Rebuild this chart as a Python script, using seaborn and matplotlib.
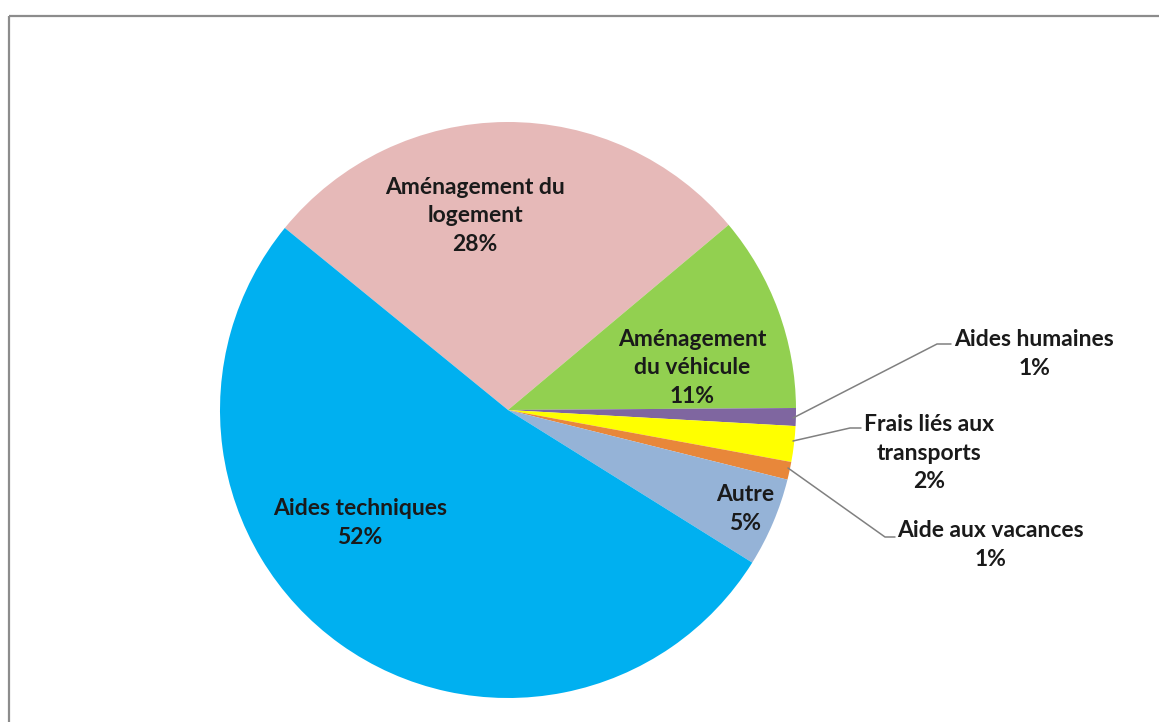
import matplotlib
matplotlib.use("Agg")
import matplotlib.pyplot as plt
import seaborn as sns

sns.set_theme(style="white")
plt.rcParams['font.family'] = ['Lato', 'DejaVu Sans']

# Data (clockwise order starting from the pink slice)
categories = ["Aménagement du logement", "Aménagement du véhicule", "Aides humaines",
              "Frais liés aux transports", "Aide aux vacances", "Autre", "Aides techniques"]
values = [28, 11, 1, 2, 1, 5, 52]
label_texts = ["Aménagement du\nlogement", "Aménagement\ndu véhicule", "Aides humaines",
               "Frais liés aux\ntransports", "Aide aux vacances", "Autre", "Aides techniques"]
colors = ["#E6B9B8", "#92D050", "#7F66A0", "#FFFF00", "#E8873A", "#95B3D7", "#00B0F0"]

W, H = 1159, 722
fig = plt.figure(figsize=(W / 100, H / 100), dpi=100)
ax = fig.add_axes([0, 0, 1, 1])

cx, cy, r = 508, H - 410, 288
ax.pie(values, colors=colors, startangle=140.8, counterclock=False,
       center=(cx, cy), radius=r, wedgeprops=dict(linewidth=0),
       frame=False)
ax.set_xlim(0, W)
ax.set_ylim(0, H)
ax.set_aspect('equal')
ax.axis('off')

# border (top and left)
ax.plot([9, W], [H - 16, H - 16], color="#8C8C8C", lw=1.6, solid_capstyle='butt')
ax.plot([9, 9], [H - 16, 0], color="#8C8C8C", lw=1.6, solid_capstyle='butt')

txt_color = "#1A1A1A"
fs = 16.5
total = sum(values)

def pct(v):
    return f"{round(100 * v / total)}%"

# label positions (pixel layout: center x, center y of text block)
pos = {
    0: (475, 216),
    1: (692, 368),
    2: (1034, 354),
    3: (929, 453),
    4: (990, 545),
    5: (745, 509),
    6: (360, 523),
}
for i, (x, y) in pos.items():
    s = label_texts[i] + "\n" + pct(values[i])
    ax.text(x, H - y, s, ha='center', va='center', fontsize=fs, fontweight='bold',
            color=txt_color, linespacing=1.42,
            transform=ax.transData)

# leader lines for small slices
lc = "#808080"
leaders = {
    2: [(793, 418), (937, 344), (951, 344)],
    3: [(793, 441), (850, 428), (861, 428)],
    4: [(788, 468), (885, 537), (895, 537)],
}
for i, pts in leaders.items():
    xs = [p[0] for p in pts]
    ys = [H - p[1] for p in pts]
    ax.plot(xs, ys, color=lc, lw=1.1)

fig.savefig("out.png", dpi=100, facecolor="white")
